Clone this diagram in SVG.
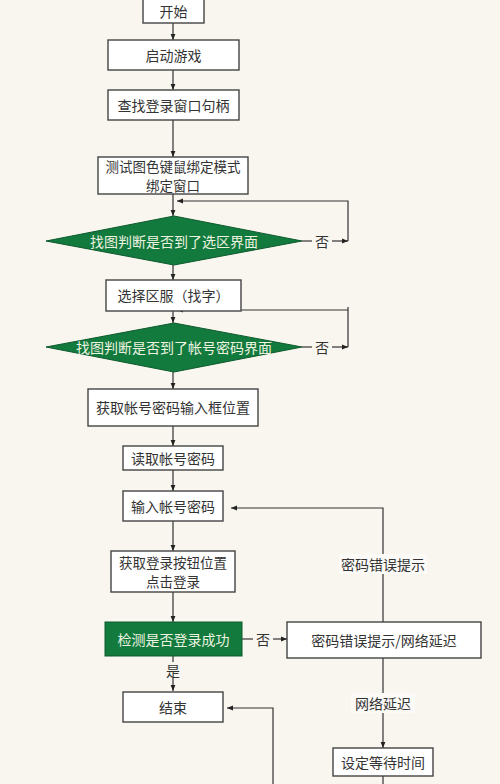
<svg xmlns="http://www.w3.org/2000/svg" width="500" height="784" viewBox="0 0 500 784">
<defs>
<marker id="ah" viewBox="0 0 10 10" refX="10" refY="5" markerWidth="6" markerHeight="6" orient="auto" markerUnits="userSpaceOnUse">
<path d="M0,1 L10,5 L0,9 Z" fill="#222"/>
</marker>
<style>
.box{fill:#ffffff;stroke:#444;stroke-width:1.4}
.grn{fill:#137a3e;stroke:#0d5a2c;stroke-width:1}
.t{font-family:"Noto Sans CJK SC","Liberation Sans",sans-serif;font-size:14px;fill:#333;text-anchor:middle;dominant-baseline:central}
.t2{font-family:"Noto Sans CJK SC","Liberation Sans",sans-serif;font-size:13.5px;fill:#333;text-anchor:middle;dominant-baseline:central}
.tw{font-family:"Noto Sans CJK SC","Liberation Sans",sans-serif;font-size:14px;fill:#eef3e0;text-anchor:middle;dominant-baseline:central}
.ln{fill:none;stroke:#333;stroke-width:1.2}
.lbg{fill:#fbfaf6}
</style>
</defs>
<rect x="0" y="0" width="500" height="784" fill="#f9f6f0"/>

<g id="connectors">
<line class="ln" x1="173" y1="23" x2="173" y2="40" marker-end="url(#ah)"/>
<line class="ln" x1="173" y1="70" x2="173" y2="90" marker-end="url(#ah)"/>
<line class="ln" x1="173" y1="120" x2="173" y2="157" marker-end="url(#ah)"/>
<line class="ln" x1="173" y1="194" x2="173" y2="216" marker-end="url(#ah)"/>
<line class="ln" x1="302" y1="241" x2="312" y2="241"/>
<line class="ln" x1="332" y1="241" x2="348" y2="241" marker-end="url(#ah)"/>
<polyline class="ln" points="348,241 348,201 177,201" marker-end="url(#ah)"/>
<line class="ln" x1="173" y1="265" x2="173" y2="280" marker-end="url(#ah)"/>
<line class="ln" x1="173" y1="311" x2="173" y2="323" marker-end="url(#ah)"/>
<line class="ln" x1="302" y1="347" x2="312" y2="347"/>
<line class="ln" x1="332" y1="347" x2="348" y2="347" marker-end="url(#ah)"/>
<polyline class="ln" points="348,347 348,307 348,310 177,310" marker-end="url(#ah)"/>
<line class="ln" x1="173" y1="372" x2="173" y2="389" marker-end="url(#ah)"/>
<line class="ln" x1="173" y1="426" x2="173" y2="446" marker-end="url(#ah)"/>
<line class="ln" x1="173" y1="470" x2="173" y2="491" marker-end="url(#ah)"/>
<line class="ln" x1="173" y1="521" x2="173" y2="551" marker-end="url(#ah)"/>
<line class="ln" x1="173" y1="592" x2="173" y2="622" marker-end="url(#ah)"/>
<polyline class="ln" points="383,622 383,508 231,508" marker-end="url(#ah)"/>
<line class="ln" x1="242" y1="639" x2="253" y2="639"/>
<line class="ln" x1="273" y1="639" x2="287" y2="639" marker-end="url(#ah)"/>
<line class="ln" x1="173" y1="656" x2="173" y2="662"/>
<line class="ln" x1="173" y1="678" x2="173" y2="691" marker-end="url(#ah)"/>
<polyline class="ln" points="273,784 273,708 227,708" marker-end="url(#ah)"/>
<line class="ln" x1="383" y1="658" x2="383" y2="748" marker-end="url(#ah)"/>
<line class="ln" x1="383" y1="776" x2="383" y2="784"/>
<rect class="lbg" x="339" y="554" width="88" height="20"/>
<text class="t" x="383" y="564">密码错误提示</text>
<rect class="lbg" x="351" y="693" width="64" height="20"/>
<text class="t" x="383" y="703">网络延迟</text>
<text class="t" x="322" y="241">否</text>
<text class="t" x="322" y="347">否</text>
<text class="t" x="263" y="639">否</text>
<text class="t" x="173" y="670">是</text>
</g>

<g id="n-start"><rect class="box" x="143" y="-1" width="61" height="24"/><text class="t" x="173.5" y="11">开始</text></g>
<g id="n-launch"><rect class="box" x="108" y="40" width="131" height="30"/><text class="t" x="173.5" y="55">启动游戏</text></g>
<g id="n-find"><rect class="box" x="108" y="90" width="131" height="30"/><text class="t" x="173.5" y="105">查找登录窗口句柄</text></g>
<g id="n-bind"><rect class="box" x="98" y="157" width="150" height="37"/><text class="t2" x="173" y="165.5">测试图色键鼠绑定模式</text><text class="t2" x="173" y="185">绑定窗口</text></g>
<g id="n-d1"><polygon class="grn" points="46,241 174,216 302,241 174,265"/><text class="tw" x="174" y="241">找图判断是否到了选区界面</text></g>
<g id="n-server"><rect class="box" x="106" y="280" width="135" height="31"/><text class="t" x="173.5" y="295">选择区服（找字）</text></g>
<g id="n-d2"><polygon class="grn" points="46,347 174,323 302,347 174,372"/><text class="tw" x="174" y="347">找图判断是否到了帐号密码界面</text></g>
<g id="n-pos"><rect class="box" x="88" y="389" width="170" height="37"/><text class="t" x="173" y="407">获取帐号密码输入框位置</text></g>
<g id="n-read"><rect class="box" x="123" y="446" width="100" height="24"/><text class="t" x="173" y="458">读取帐号密码</text></g>
<g id="n-input"><rect class="box" x="123" y="491" width="100" height="30"/><text class="t" x="173" y="506">输入帐号密码</text></g>
<g id="n-btn"><rect class="box" x="111" y="551" width="124" height="41"/><text class="t2" x="173" y="561.5">获取登录按钮位置</text><text class="t2" x="173" y="581">点击登录</text></g>
<g id="n-check"><rect class="grn" x="105" y="622" width="137" height="34"/><text class="tw" x="173.5" y="639">检测是否登录成功</text></g>
<g id="n-err"><rect class="box" x="287" y="622" width="194" height="36"/><text class="t" x="384" y="640">密码错误提示/网络延迟</text></g>
<g id="n-end"><rect class="box" x="123" y="692" width="100" height="30"/><text class="t" x="173" y="707">结束</text></g>
<g id="n-wait"><rect class="box" x="333" y="748" width="100" height="28"/><text class="t" x="383" y="762">设定等待时间</text></g>
</svg>
